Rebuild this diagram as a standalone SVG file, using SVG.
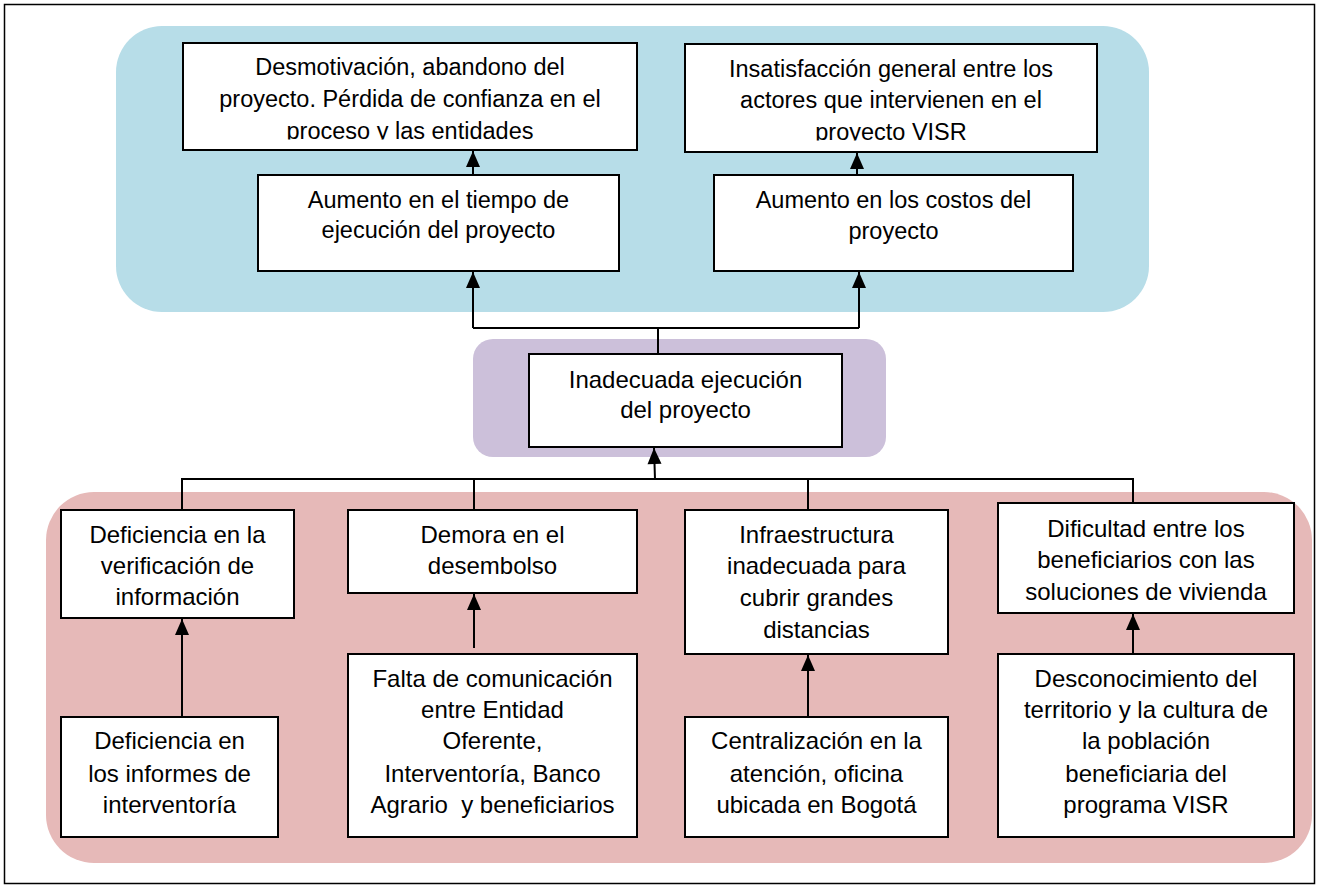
<svg xmlns="http://www.w3.org/2000/svg" width="1318" height="887" viewBox="0 0 1318 887">
<style>
.box{fill:#fff;stroke:#000;stroke-width:2}
.t{font-family:"Liberation Sans",Arial,sans-serif;font-size:24px;fill:#000;text-anchor:middle}
.top{font-size:23.5px}
.c{fill:none;stroke:#000;stroke-width:2}
</style>
<defs>
<marker id="ah" markerUnits="userSpaceOnUse" markerWidth="16" markerHeight="14" viewBox="0 0 16 14" refX="16" refY="7" orient="auto" overflow="visible">
<path d="M0,0 L16,7 L0,14 Z" fill="#000"/>
</marker>
<clipPath id="clipA"><rect x="183" y="43" width="454" height="96.5"/></clipPath>
<clipPath id="clipC"><rect x="685" y="44" width="412" height="96.5"/></clipPath>
</defs>
<rect x="0" y="0" width="1318" height="887" fill="#fff"/>
<rect x="4.5" y="4.5" width="1310" height="879" fill="none" stroke="#000" stroke-width="1.5"/>
<g id="panels">
<rect x="116" y="26" width="1033" height="286" rx="46" fill="#B7DDE8"/>
<rect x="473" y="339" width="413" height="118" rx="20" fill="#CCC0DA"/>
<rect x="46" y="492" width="1266" height="371" rx="48" fill="#E6B9B8"/>
</g>
<g id="connectors">
<path class="c" d="M658,354 V328 M473,328 H859"/>
<path class="c" d="M473,328 V272" marker-end="url(#ah)"/>
<path class="c" d="M859,328 V272" marker-end="url(#ah)"/>
<path class="c" d="M473,175 V151" marker-end="url(#ah)"/>
<path class="c" d="M857,175 V153" marker-end="url(#ah)"/>
<path class="c" d="M655,479 L654,448" marker-end="url(#ah)"/>
<path class="c" d="M182,510 V479 H1133 V503 M474,479 V510 M808,479 V510"/>
<path class="c" d="M182,717 V619" marker-end="url(#ah)"/>
<path class="c" d="M474,648 V594" marker-end="url(#ah)"/>
<path class="c" d="M808,717 V655" marker-end="url(#ah)"/>
<path class="c" d="M1133,654 V614" marker-end="url(#ah)"/>
</g>
<g id="nodeA">
<rect class="box" x="183" y="43" width="454" height="107"/>
<text class="t top" clip-path="url(#clipA)"><tspan x="410" y="75">Desmotivación, abandono del</tspan><tspan x="410" y="107">proyecto. Pérdida de confianza en el</tspan><tspan x="410" y="138.5">proceso y las entidades</tspan></text>
</g>
<g id="nodeB">
<rect class="box" x="258" y="175" width="361" height="96"/>
<text class="t top"><tspan x="438.5" y="208">Aumento en el tiempo de</tspan><tspan x="438.5" y="238">ejecución del proyecto</tspan></text>
</g>
<g id="nodeC">
<rect class="box" x="685" y="44" width="412" height="108"/>
<text class="t top" clip-path="url(#clipC)"><tspan x="891" y="77">Insatisfacción general entre los</tspan><tspan x="891" y="108">actores que intervienen en el</tspan><tspan x="891" y="139.5">proyecto VISR</tspan></text>
</g>
<g id="nodeD">
<rect class="box" x="714" y="175" width="359" height="96"/>
<text class="t top"><tspan x="893.5" y="208">Aumento en los costos del</tspan><tspan x="893.5" y="239">proyecto</tspan></text>
</g>
<g id="nodeE">
<rect class="box" x="529" y="354" width="313" height="93"/>
<text class="t"><tspan x="685.5" y="388">Inadecuada ejecución</tspan><tspan x="685.5" y="418">del proyecto</tspan></text>
</g>
<g id="nodeF">
<rect class="box" x="61" y="510" width="233" height="108"/>
<text class="t"><tspan x="177.5" y="543">Deficiencia en la</tspan><tspan x="177.5" y="574">verificación de</tspan><tspan x="177.5" y="605">información</tspan></text>
</g>
<g id="nodeG">
<rect class="box" x="348" y="510" width="289" height="83"/>
<text class="t"><tspan x="492.5" y="543">Demora en el</tspan><tspan x="492.5" y="574">desembolso</tspan></text>
</g>
<g id="nodeH">
<rect class="box" x="685" y="510" width="263" height="144"/>
<text class="t"><tspan x="816.5" y="543">Infraestructura</tspan><tspan x="816.5" y="574">inadecuada para</tspan><tspan x="816.5" y="606">cubrir grandes</tspan><tspan x="816.5" y="638">distancias</tspan></text>
</g>
<g id="nodeI">
<rect class="box" x="998" y="503" width="296" height="110"/>
<text class="t"><tspan x="1146" y="537">Dificultad entre los</tspan><tspan x="1146" y="568">beneficiarios con las</tspan><tspan x="1146" y="600">soluciones de vivienda</tspan></text>
</g>
<g id="nodeJ">
<rect class="box" x="61" y="717" width="217" height="120"/>
<text class="t"><tspan x="169.5" y="749">Deficiencia en</tspan><tspan x="169.5" y="782">los informes de</tspan><tspan x="169.5" y="813">interventoría</tspan></text>
</g>
<g id="nodeK">
<rect class="box" x="348" y="654" width="289" height="183"/>
<text class="t"><tspan x="492.5" y="687">Falta de comunicación</tspan><tspan x="492.5" y="718">entre Entidad</tspan><tspan x="492.5" y="749">Oferente,</tspan><tspan x="492.5" y="782">Interventoría, Banco</tspan><tspan x="492.5" y="813" xml:space="preserve">Agrario  y beneficiarios</tspan></text>
</g>
<g id="nodeL">
<rect class="box" x="685" y="717" width="263" height="120"/>
<text class="t"><tspan x="816.5" y="749">Centralización en la</tspan><tspan x="816.5" y="782">atención, oficina</tspan><tspan x="816.5" y="813">ubicada en Bogotá</tspan></text>
</g>
<g id="nodeM">
<rect class="box" x="998" y="654" width="296" height="183"/>
<text class="t"><tspan x="1146" y="687">Desconocimiento del</tspan><tspan x="1146" y="718">territorio y la cultura de</tspan><tspan x="1146" y="749">la población</tspan><tspan x="1146" y="782">beneficiaria del</tspan><tspan x="1146" y="813">programa VISR</tspan></text>
</g>
</svg>
